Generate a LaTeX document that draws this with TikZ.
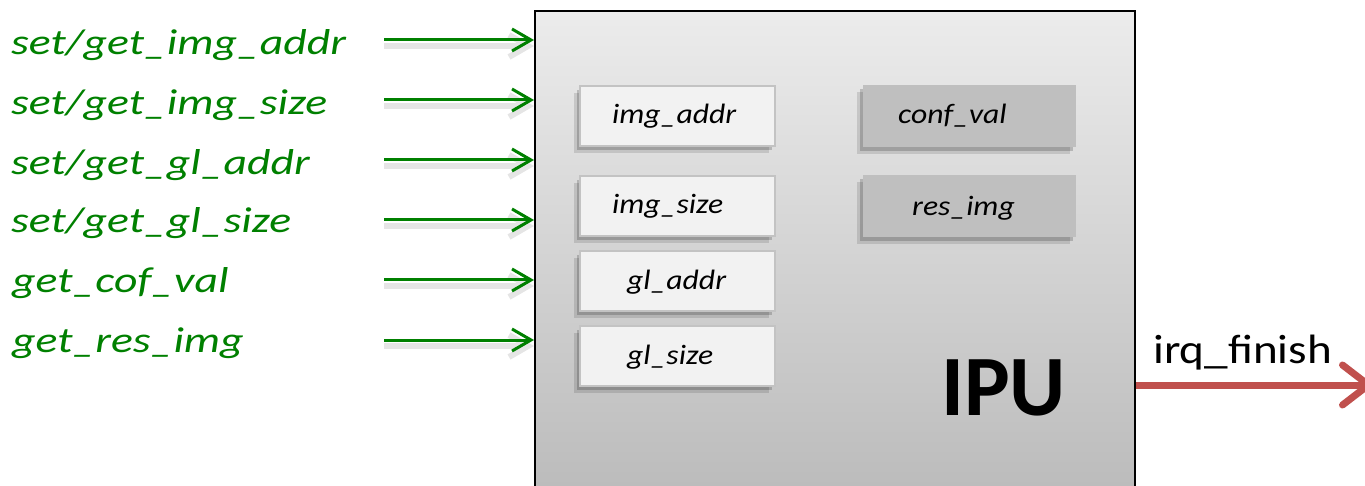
\documentclass[tikz,border=0pt]{standalone}
\usepackage{fontspec}
\setmainfont{Carlito}
\newfontfamily\lblfont[FakeStretch=1.27]{Carlito}
\newfontfamily\boxfont[FakeStretch=1.13]{Carlito}
\newfontfamily\irqfont[FakeStretch=1.15]{Carlito}
\usetikzlibrary{arrows.meta,shadows}
\definecolor{sigGreen}{RGB}{0,128,0}
\definecolor{irqRed}{RGB}{192,80,77}
\definecolor{boxLight}{RGB}{242,242,242}
\definecolor{boxLine}{RGB}{195,195,195}
\definecolor{boxDark}{RGB}{191,191,191}
\definecolor{ipuTop}{RGB}{236,236,236}
\definecolor{ipuBot}{RGB}{186,186,186}
\begin{document}
\begin{tikzpicture}[x=1pt,y=-1pt,
  siglabel/.style={anchor=base west, inner sep=0pt, text=sigGreen,
    font=\lblfont\itshape\fontsize{36}{42}\selectfont},
  sigarrow/.style={draw=sigGreen, line width=3pt,
    -{Straight Barb[length=19pt,width=22pt]},
    preaction={draw=black!10, line width=6pt, transform canvas={yshift=-6pt}}},
  ipubox/.style={draw=black, line width=2pt, top color=ipuTop, bottom color=ipuBot,
    anchor=north west, inner sep=0pt, minimum width=600pt, minimum height=495pt},
  regbox/.style={anchor=north west, inner sep=0pt, line width=2pt,
    drop shadow={shadow xshift=-6pt, shadow yshift=-7pt, opacity=0.12, fill=black},
    drop shadow={shadow xshift=-3pt, shadow yshift=-4pt, opacity=0.18, fill=black}},
  lightreg/.style={regbox, draw=boxLine, fill=boxLight, minimum width=195pt, minimum height=60pt},
  darkreg/.style={regbox, fill=boxDark, minimum width=213pt, minimum height=62pt},
  regtext/.style={anchor=base west, inner sep=0pt,
    font=\boxfont\itshape\fontsize{28}{34}\selectfont},
  irqarrow/.style={draw=irqRed, line width=7pt,
    -{Straight Barb[length=26pt,width=40pt,round]}}
]
\useasboundingbox (0,0) rectangle (1365,486);
\clip (0,0) rectangle (1365,486);

% main block
\node[ipubox] (ipu) at (534,10) {};

% registers
\node[lightreg] (r1) at (579,85) {};
\node[lightreg] (r2) at (579,175) {};
\node[lightreg] (r3) at (579,250) {};
\node[lightreg] (r4) at (579,325) {};
\node[darkreg] (r5) at (862,84) {};
\node[darkreg] (r6) at (862,174) {};

\node[regtext] (t1) at (612,124) {img\_addr};
\node[regtext] (t2) at (612,214) {img\_size};
\node[regtext] (t3) at (627,290) {gl\_addr};
\node[regtext] (t4) at (627,364) {gl\_size};
\node[regtext] (t5) at (898,124) {conf\_val};
\node[regtext] (t6) at (912,216) {res\_img};

\node[anchor=base west, inner sep=0pt, font=\bfseries\fontsize{86}{90}\selectfont] (ipulabel) at (941,415) {IPU};

% signals
\node[siglabel] (l1) at (11,55) {set/get\_img\_addr};
\node[siglabel] (l2) at (11,115) {set/get\_img\_size};
\node[siglabel] (l3) at (11,175) {set/get\_gl\_addr};
\node[siglabel] (l4) at (11,233) {set/get\_gl\_size};
\node[siglabel] (l5) at (12,293) {get\_cof\_val};
\node[siglabel] (l6) at (12,352) {get\_res\_img};

\coordinate (s1) at (384,40);
\coordinate (s2) at (384,100);
\coordinate (s3) at (384,160);
\coordinate (s4) at (384,220);
\coordinate (s5) at (384,280);
\coordinate (s6) at (384,340);
\foreach \i in {1,...,6} {
  \draw[sigarrow] (s\i) -- (s\i -| ipu.west);
}

% interrupt
\coordinate (irqend) at (1372,385);
\draw[irqarrow] (ipu.east |- irqend) -- (irqend);
\node[anchor=base west, inner sep=0pt, font=\irqfont\fontsize{41}{48}\selectfont] (irq) at (1153,363) {irq\_finish};
\end{tikzpicture}
\end{document}
